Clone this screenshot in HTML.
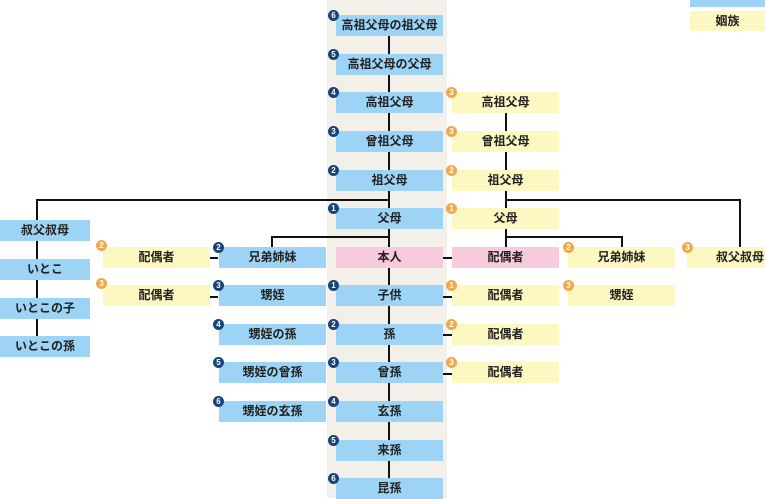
<!DOCTYPE html>
<html><head><meta charset="utf-8"><style>
body{margin:0;width:765px;height:498px;overflow:hidden;background:#fff;position:relative;font-family:"Liberation Sans","Noto Sans CJK JP",sans-serif;}
.band{position:absolute;left:327px;top:0;width:120px;height:498px;background:#f3efe9;}
.b{position:absolute;height:21px;line-height:21px;text-align:center;font-size:12px;font-weight:bold;color:#222;}
.bl{background:#9dd4f6}.y{background:#fdf7c2}.p{background:#f8cadd}
.l{position:absolute;background:#111;}
.c{position:absolute;width:11px;height:11px;border-radius:50%;color:#fff;font-size:8px;line-height:11px;text-align:center;font-weight:bold;}
.n{background:#17457a}.o{background:#f0a94a}
</style></head><body>
<div class="band"></div>
<div class="l" style="left:388px;top:36px;width:2px;height:442px"></div>
<div class="l" style="left:505px;top:113px;width:2px;height:134px"></div>
<div class="l" style="left:36px;top:199px;width:354px;height:2px"></div>
<div class="l" style="left:505px;top:199px;width:236px;height:2px"></div>
<div class="l" style="left:36px;top:199px;width:2px;height:140px"></div>
<div class="l" style="left:739px;top:199px;width:2px;height:48px"></div>
<div class="l" style="left:271px;top:236px;width:119px;height:2px"></div>
<div class="l" style="left:271px;top:236px;width:2px;height:11px"></div>
<div class="l" style="left:505px;top:236px;width:118px;height:2px"></div>
<div class="l" style="left:621px;top:236px;width:2px;height:11px"></div>
<div class="l" style="left:210px;top:257px;width:8px;height:2px"></div>
<div class="l" style="left:210px;top:296px;width:8px;height:2px"></div>
<div class="l" style="left:443px;top:257px;width:9px;height:2px"></div>
<div class="l" style="left:443px;top:296px;width:9px;height:2px"></div>
<div class="l" style="left:443px;top:334px;width:9px;height:2px"></div>
<div class="l" style="left:443px;top:373px;width:9px;height:2px"></div>

<div class="b bl" style="left:690px;top:0;width:75px;height:7px"></div>
<div class="b y" style="left:690px;top:11px;width:75px;height:20px;line-height:20px">姻族</div>

<!-- center column -->
<div class="b bl" style="left:336px;top:15px;width:107px">高祖父母の祖父母</div>
<div class="b bl" style="left:336px;top:54px;width:107px">高祖父母の父母</div>
<div class="b bl" style="left:336px;top:92px;width:107px">高祖父母</div>
<div class="b bl" style="left:336px;top:131px;width:107px">曾祖父母</div>
<div class="b bl" style="left:336px;top:170px;width:107px">祖父母</div>
<div class="b bl" style="left:336px;top:208px;width:107px">父母</div>
<div class="b p" style="left:336px;top:247px;width:107px">本人</div>
<div class="b bl" style="left:336px;top:285px;width:107px">子供</div>
<div class="b bl" style="left:336px;top:324px;width:107px">孫</div>
<div class="b bl" style="left:336px;top:362px;width:107px">曾孫</div>
<div class="b bl" style="left:336px;top:401px;width:107px">玄孫</div>
<div class="b bl" style="left:336px;top:440px;width:107px">来孫</div>
<div class="b bl" style="left:336px;top:478px;width:107px">昆孫</div>
<div class="c n" style="left:328px;top:10px">6</div>
<div class="c n" style="left:328px;top:49px">5</div>
<div class="c n" style="left:328px;top:87px">4</div>
<div class="c n" style="left:328px;top:126px">3</div>
<div class="c n" style="left:328px;top:165px">2</div>
<div class="c n" style="left:328px;top:203px">1</div>
<div class="c n" style="left:328px;top:280px">1</div>
<div class="c n" style="left:328px;top:319px">2</div>
<div class="c n" style="left:328px;top:357px">3</div>
<div class="c n" style="left:328px;top:396px">4</div>
<div class="c n" style="left:328px;top:435px">5</div>
<div class="c n" style="left:328px;top:473px">6</div>

<!-- right yellow column -->
<div class="b y" style="left:452px;top:92px;width:107px">高祖父母</div>
<div class="b y" style="left:452px;top:131px;width:107px">曾祖父母</div>
<div class="b y" style="left:452px;top:170px;width:107px">祖父母</div>
<div class="b y" style="left:452px;top:208px;width:107px">父母</div>
<div class="b p" style="left:452px;top:247px;width:107px">配偶者</div>
<div class="b y" style="left:452px;top:285px;width:107px">配偶者</div>
<div class="b y" style="left:452px;top:324px;width:107px">配偶者</div>
<div class="b y" style="left:452px;top:362px;width:107px">配偶者</div>
<div class="c o" style="left:446px;top:87px">3</div>
<div class="c o" style="left:446px;top:126px">3</div>
<div class="c o" style="left:446px;top:165px">2</div>
<div class="c o" style="left:446px;top:203px">1</div>
<div class="c o" style="left:446px;top:280px">1</div>
<div class="c o" style="left:446px;top:319px">2</div>
<div class="c o" style="left:446px;top:357px">3</div>

<div class="b y" style="left:568px;top:247px;width:107px">兄弟姉妹</div>
<div class="b y" style="left:568px;top:285px;width:107px">甥姪</div>
<div class="c o" style="left:563px;top:242px">2</div>
<div class="c o" style="left:563px;top:280px">3</div>
<div class="b y" style="left:687px;top:247px;width:106px">叔父叔母</div>
<div class="c o" style="left:682px;top:242px">3</div>

<!-- siblings column -->
<div class="b bl" style="left:219px;top:247px;width:107px">兄弟姉妹</div>
<div class="b bl" style="left:219px;top:285px;width:107px">甥姪</div>
<div class="b bl" style="left:219px;top:324px;width:107px">甥姪の孫</div>
<div class="b bl" style="left:219px;top:362px;width:107px">甥姪の曾孫</div>
<div class="b bl" style="left:219px;top:401px;width:107px">甥姪の玄孫</div>
<div class="c n" style="left:213px;top:242px">2</div>
<div class="c n" style="left:213px;top:280px">3</div>
<div class="c n" style="left:213px;top:319px">4</div>
<div class="c n" style="left:213px;top:357px">5</div>
<div class="c n" style="left:213px;top:396px">6</div>

<div class="b y" style="left:103px;top:247px;width:107px">配偶者</div>
<div class="b y" style="left:103px;top:285px;width:107px">配偶者</div>
<div class="c o" style="left:96px;top:240px">2</div>
<div class="c o" style="left:96px;top:278px">3</div>

<!-- left column -->
<div class="b bl" style="left:0;top:220px;width:90px">叔父叔母</div>
<div class="b bl" style="left:0;top:259px;width:90px">いとこ</div>
<div class="b bl" style="left:0;top:298px;width:90px">いとこの子</div>
<div class="b bl" style="left:0;top:336px;width:90px">いとこの孫</div>
</body></html>
